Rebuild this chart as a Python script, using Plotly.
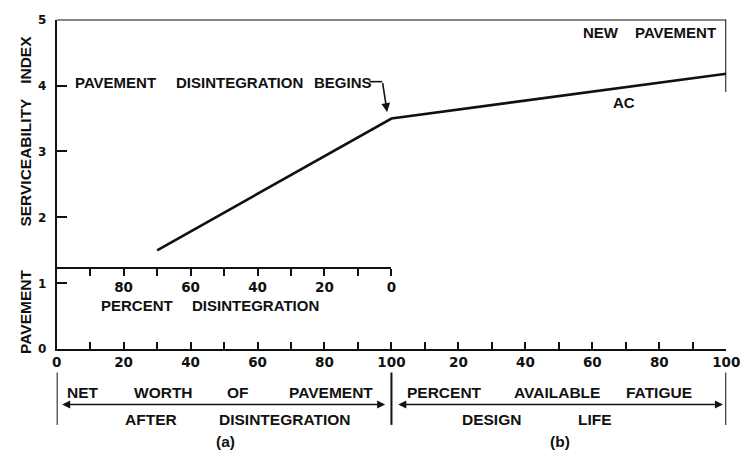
import plotly.graph_objects as go

# ---- data -------------------------------------------------------------
# horizontal position: 0-100 = net worth after disintegration (a),
# 100-200 = percent available fatigue design life (b)
curve_x = [30, 100, 200]
curve_psi = [1.5, 3.5, 4.18]

main_ticks = list(range(0, 201, 10))
main_labels = ["0", "", "20", "", "40", "", "60", "", "80", "",
               "100", "", "20", "", "40", "", "60", "", "80", "", "100"]

psi_ticks = [0, 1, 2, 3, 4, 5]
psi_labels = ["0", "1", "2", "3", "4", "5"]

disint_ticks = list(range(0, 100, 10))
disint_labels = ["0", "", "20", "", "40", "", "60", "", "80", ""]
disint_axis_psi = 1.235  # level where the percent-disintegration scale sits

W, H = 750, 460
X0, X1 = 53, 740      # pixel span of the main horizontal axis
Y0, Y5 = 353, 13      # pixel rows of PSI 0 and PSI 5

LETTER = "Liberation Sans, Arial, sans-serif"
NARROW = "Liberation Sans Narrow, Arial Narrow, Liberation Sans, sans-serif"
DIGITS = "DejaVu Sans, sans-serif"
INK = "#111111"


def px(xp):
    return xp / W


def py(yp):
    return (H - yp) / H


fig = go.Figure()
fig.add_trace(go.Scatter(x=curve_x, y=curve_psi, mode="lines",
                         line=dict(color=INK, width=2.6),
                         hoverinfo="skip", showlegend=False))
# carrier trace so the percent-disintegration scale is drawn
fig.add_trace(go.Scatter(x=[50], y=[0], xaxis="x2", yaxis="y", mode="markers",
                         marker=dict(opacity=0), hoverinfo="skip",
                         showlegend=False))

shapes = []
# frame: top edge and short right edge
shapes.append(dict(type="line", xref="x", yref="y", x0=0, x1=200, y0=5, y1=5,
                   line=dict(color=INK, width=2)))
shapes.append(dict(type="line", xref="x", yref="y", x0=200, x1=200, y0=5, y1=3.9,
                   line=dict(color=INK, width=2)))
# leader of the "disintegration begins" callout
shapes.append(dict(type="line", xref="paper", yref="paper",
                   x0=px(374), x1=px(387), y0=py(77), y1=py(77),
                   line=dict(color=INK, width=1.6)))
# bracket bars below the axis
for xv in (0, 100, 200):
    shapes.append(dict(type="line", xref="x", yref="paper", x0=xv, x1=xv,
                       y0=py(377), y1=py(431), line=dict(color=INK, width=2)))

ann = []


def text(x, y, s, size=15, font=LETTER, angle=0, xanchor="center"):
    ann.append(dict(x=px(x), y=py(y), xref="paper", yref="paper", text=s,
                    showarrow=False, xanchor=xanchor, yanchor="middle",
                    textangle=angle,
                    font=dict(family=font, size=size, color=INK, weight="bold")))


# y-axis title
text(21, 314, "PAVEMENT", size=15.5, font=NARROW, angle=-90)
text(21, 160, "SERVICEABILITY", size=15.5, font=NARROW, angle=-90)
text(21, 54, "INDEX", size=15.5, font=NARROW, angle=-90)

# callouts inside the plot
text(113.5, 78, "PAVEMENT")
text(241, 78, "DISINTEGRATION")
text(346.5, 78, "BEGINS")
text(612, 26, "NEW")
text(688, 26, "PAVEMENT")
text(635, 98, "AC")
text(135, 308, "PERCENT")
text(257, 308, "DISINTEGRATION")

# arrow from the callout down to the break in the curve
ann.append(dict(x=98.7, y=3.6, xref="x", yref="y", ax=97.3, ay=4.06,
                axref="x", ayref="y", text="", showarrow=True, arrowhead=2,
                arrowsize=1.1, arrowwidth=1.6, arrowcolor=INK, standoff=0))

# bracket legends
for x, s in [(80, "NET"), (163, "WORTH"), (239, "OF"), (334, "PAVEMENT"),
             (451, "PERCENT"), (566, "AVAILABLE"), (671, "FATIGUE")]:
    text(x, 398, s, size=15.5)
for x, s in [(150, "AFTER"), (287, "DISINTEGRATION"),
             (499, "DESIGN"), (605, "LIFE")]:
    text(x, 425, s, size=15.5)
text(226, 448, "(a)", size=15.5)
text(569, 448, "(b)", size=15.5)

# double-headed spans
for a, b in [(1.2, 98.1), (101.6, 199.0)]:
    ann.append(dict(x=b, y=py(410), xref="x", yref="paper", ax=a, ay=0,
                    axref="x", ayref="pixel", text="", showarrow=True,
                    arrowhead=2, startarrowhead=2, arrowside="end+start",
                    arrowsize=1.0, startarrowsize=1.0, arrowwidth=1.6,
                    arrowcolor=INK, standoff=0, startstandoff=0))

fig.update_layout(
    width=W, height=H,
    margin=dict(l=0, r=0, t=0, b=0),
    paper_bgcolor="white", plot_bgcolor="rgba(0,0,0,0)",
    showlegend=False,
    shapes=shapes,
    annotations=ann,
    xaxis=dict(domain=[px(X0), px(X1)], range=[0, 200], anchor="y",
               showline=True, linecolor=INK, linewidth=2,
               ticks="inside", ticklen=7, tickwidth=1.6, tickcolor=INK,
               tickvals=main_ticks, ticktext=main_labels,
               tickfont=dict(family=DIGITS, size=13.5, color=INK, weight="bold"),
               showgrid=False, zeroline=False, fixedrange=True),
    yaxis=dict(domain=[py(Y0), py(Y5)], range=[0, 5], anchor="x",
               showline=True, linecolor=INK, linewidth=2,
               ticks="inside", ticklen=10, tickwidth=1.6, tickcolor=INK,
               tickvals=psi_ticks, ticktext=psi_labels,
               ticklabelstandoff=6,
               tickfont=dict(family=DIGITS, size=12, color=INK, weight="bold"),
               showgrid=False, zeroline=False, fixedrange=True),
    xaxis2=dict(domain=[px(X0), px(X0 + (X1 - X0) / 2)], range=[100, 0],
                anchor="free", position=py(Y0 - disint_axis_psi * (Y0 - Y5) / 5),
                side="bottom",
                showline=True, linecolor=INK, linewidth=2,
                ticks="outside", ticklen=7, tickwidth=1.6, tickcolor=INK,
                tickvals=disint_ticks, ticktext=disint_labels,
                tickfont=dict(family=DIGITS, size=13.5, color=INK, weight="bold"),
                showgrid=False, zeroline=False, fixedrange=True),
)

fig.write_html("out.html")
